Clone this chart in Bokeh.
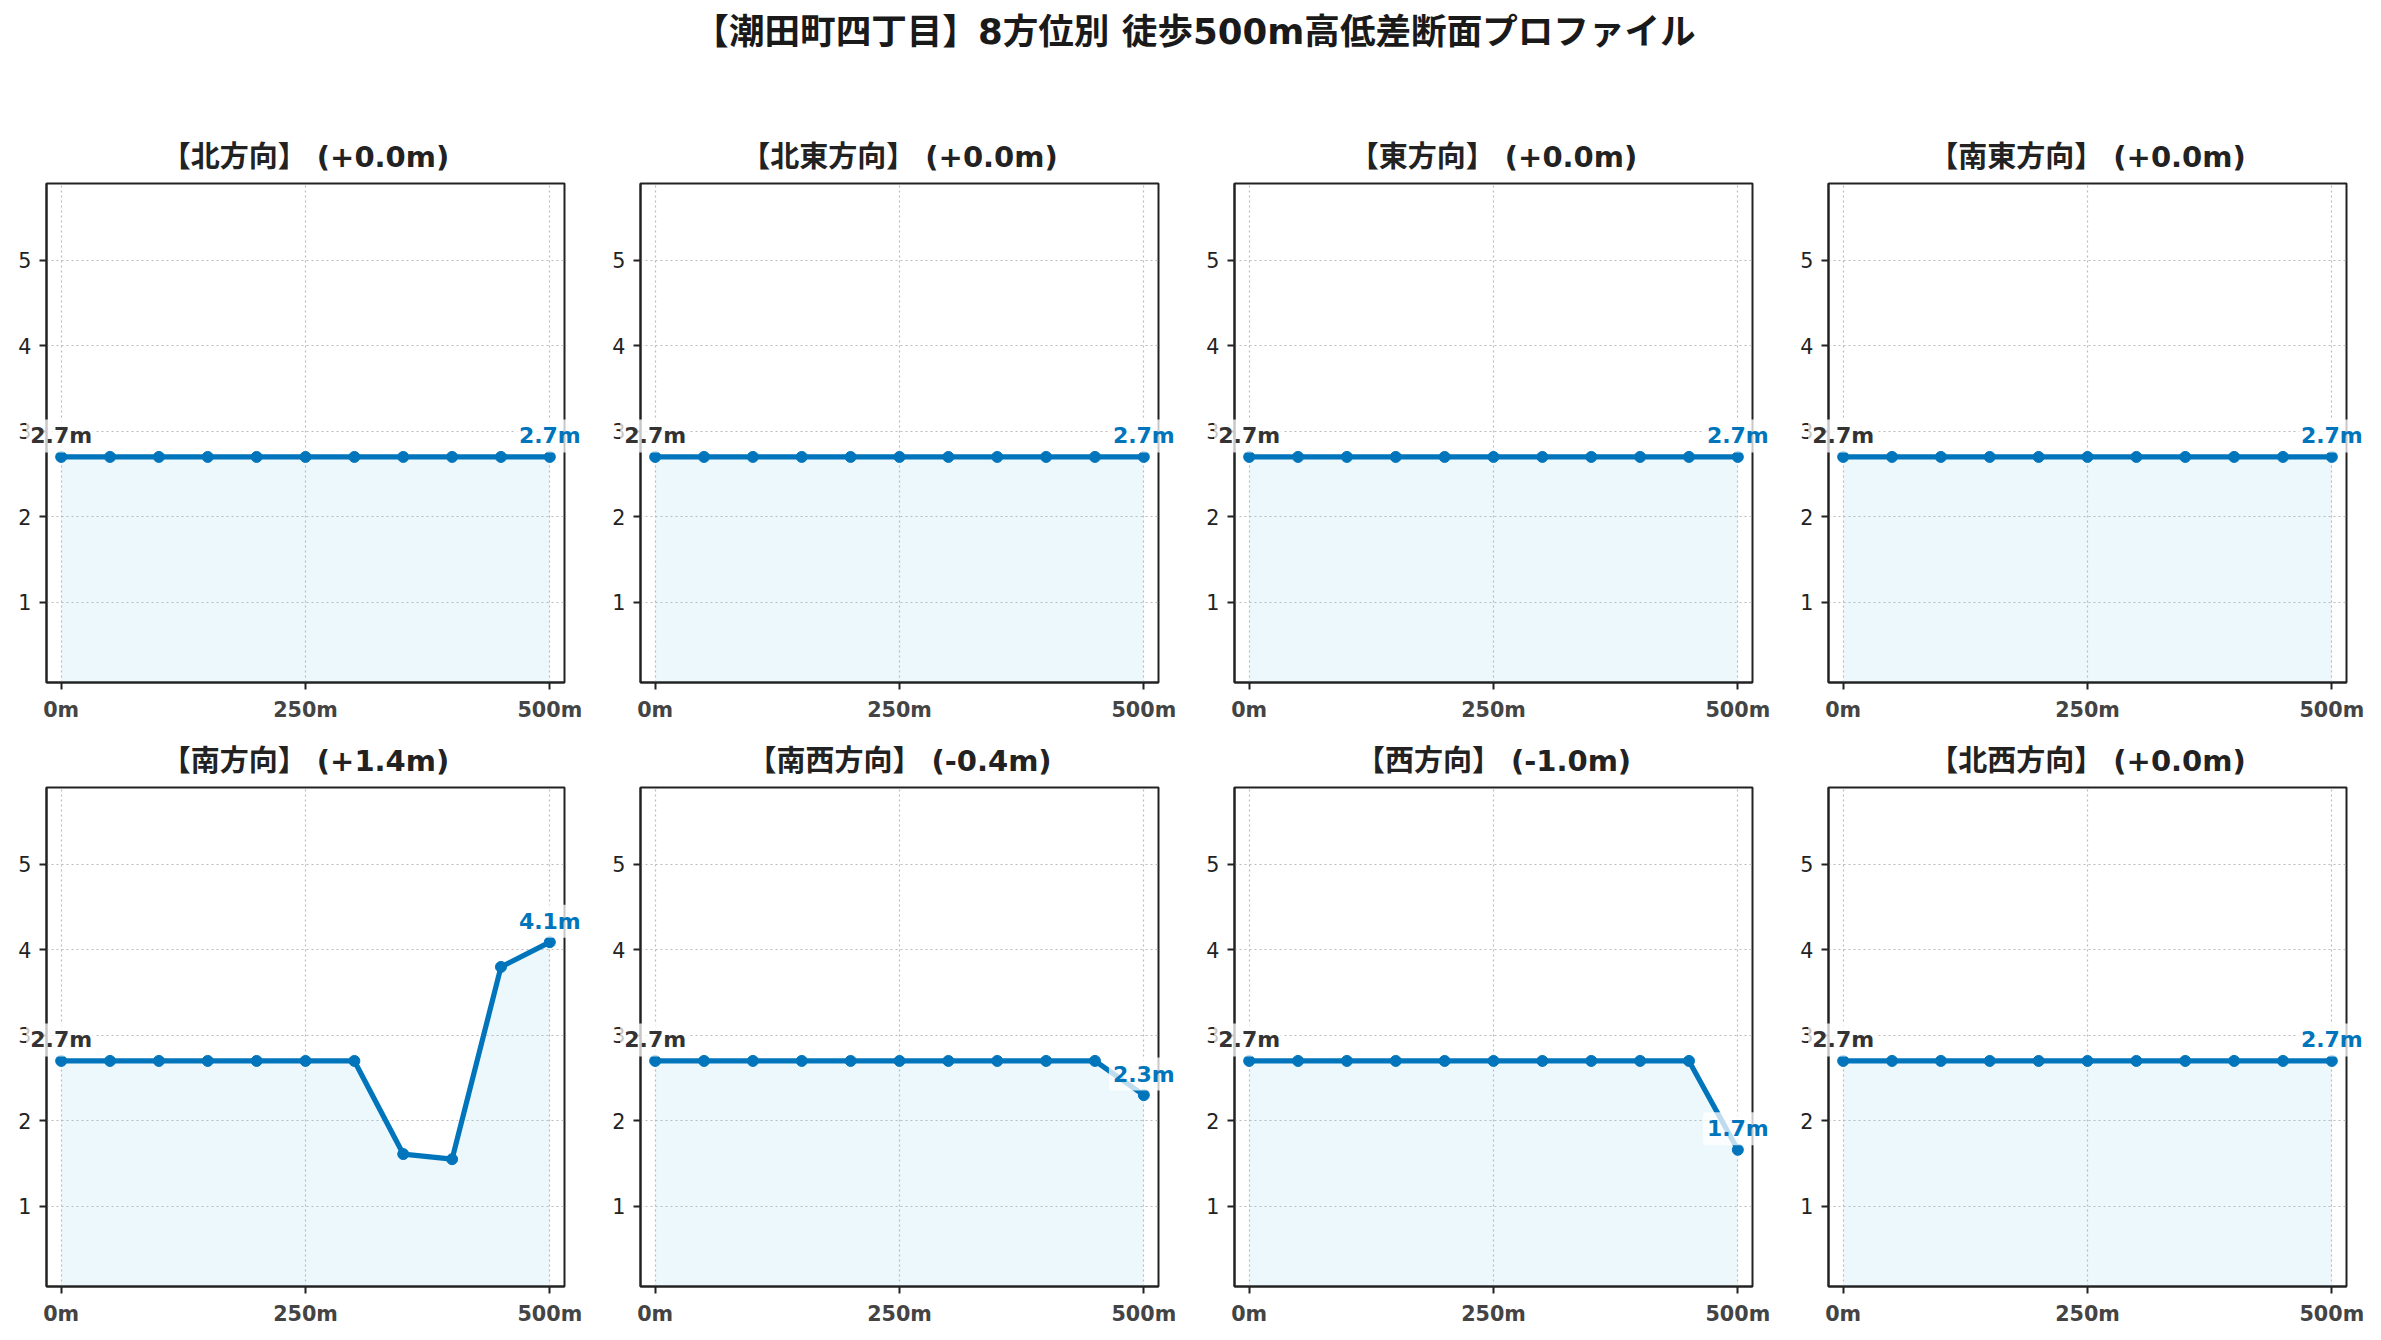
from bokeh.plotting import figure
from bokeh.models import Range1d, FixedTicker, Label
from bokeh.layouts import column, row
from bokeh.embed import file_html
from bokeh.resources import INLINE

FONT = "DejaVu Sans, Noto Sans CJK JP"
BLUE = "#0075BC"
FILL = "#87CEEB"

suptitle = "【潮田町四丁目】8方位別 徒歩500m高低差断面プロファイル"

directions = ["北方向", "北東方向", "東方向", "南東方向",
              "南方向", "南西方向", "西方向", "北西方向"]

distances = [0, 50, 100, 150, 200, 250, 300, 350, 400, 450, 500]

elev_n = [2.7, 2.7, 2.7, 2.7, 2.7, 2.7, 2.7, 2.7, 2.7, 2.7, 2.7]
elev_ne = [2.7, 2.7, 2.7, 2.7, 2.7, 2.7, 2.7, 2.7, 2.7, 2.7, 2.7]
elev_e = [2.7, 2.7, 2.7, 2.7, 2.7, 2.7, 2.7, 2.7, 2.7, 2.7, 2.7]
elev_se = [2.7, 2.7, 2.7, 2.7, 2.7, 2.7, 2.7, 2.7, 2.7, 2.7, 2.7]
elev_s = [2.7, 2.7, 2.7, 2.7, 2.7, 2.7, 2.7, 1.61, 1.55, 3.80, 4.09]
elev_sw = [2.7, 2.7, 2.7, 2.7, 2.7, 2.7, 2.7, 2.7, 2.7, 2.7, 2.30]
elev_w = [2.7, 2.7, 2.7, 2.7, 2.7, 2.7, 2.7, 2.7, 2.7, 2.7, 1.66]
elev_nw = [2.7, 2.7, 2.7, 2.7, 2.7, 2.7, 2.7, 2.7, 2.7, 2.7, 2.7]

profiles = [elev_n, elev_ne, elev_e, elev_se, elev_s, elev_sw, elev_w, elev_nw]

x_ticks = [0, 250, 500]
x_tick_labels = ["0m", "250m", "500m"]
y_ticks = [1, 2, 3, 4, 5]

X_MIN, X_MAX = -15, 515
Y_MIN, Y_MAX = 0.06, 5.9

TOP = 110      # fixed "above" panel height (holds the un-clipped labels)
BOTTOM = 45
FRAME_W, FRAME_H = 518, 499


def make_panel(name, elev, col):
    p = figure(frame_width=FRAME_W, frame_height=FRAME_H,
               x_range=Range1d(X_MIN, X_MAX), y_range=Range1d(Y_MIN, Y_MAX),
               output_backend="svg", toolbar_location=None,
               min_border_left=(46 if col == 0 else 38),
               min_border_right=(38 if col < 3 else 27),
               min_border_top=TOP, min_border_bottom=BOTTOM)
    p.background_fill_color = "white"
    p.border_fill_color = None
    p.outline_line_color = "#222222"
    p.outline_line_width = 2

    p.varea(x=distances, y1=0, y2=elev, fill_color=FILL, fill_alpha=0.15)
    p.line(distances, elev, line_color=BLUE, line_width=5.2, line_join="round")
    p.scatter(distances, elev, size=11, fill_color=BLUE, line_color=BLUE)

    for ax in (p.xaxis, p.yaxis):
        ax.axis_line_color = "#222222"
        ax.axis_line_width = 2
        ax.major_tick_line_color = "#222222"
        ax.major_tick_line_width = 2
        ax.major_tick_out = 7
        ax.major_tick_in = 0
        ax.minor_tick_line_color = None
        ax.major_label_text_font = FONT
        ax.major_label_text_font_size = "20.7px"
        ax.major_label_standoff = 8

    p.xaxis.ticker = FixedTicker(ticks=x_ticks)
    p.xaxis.major_label_overrides = dict(zip(x_ticks, x_tick_labels))
    p.xaxis.major_label_text_font_style = "bold"
    p.xaxis.major_label_text_color = "#444444"
    p.yaxis.ticker = FixedTicker(ticks=y_ticks)
    p.yaxis.major_label_text_color = "#222222"

    for g in (p.xgrid, p.ygrid):
        g.grid_line_color = "#bbbbbb"
        g.grid_line_dash = "2 3"
        g.grid_line_width = 1.2

    diff = elev[-1] - elev[0]
    p.add_layout(Label(x=(x_ticks[0] + x_ticks[-1]) / 2, y=Y_MAX, y_offset=27,
                       text=f"【{name}】 ({diff:+.1f}m)",
                       text_align="center", text_baseline="alphabetic",
                       text_font=FONT, text_font_size="29px",
                       text_font_style="bold", text_color="#222222"), "above")

    common = dict(y_offset=21, text_align="center", text_baseline="alphabetic",
                  text_font=FONT, text_font_size="22px", text_font_style="bold",
                  background_fill_color="white", background_fill_alpha=0.75,
                  padding=4, border_radius=4)
    p.add_layout(Label(x=distances[0], y=elev[0], text=f"{elev[0]:.1f}m",
                       text_color="#333333", **common), "above")
    p.add_layout(Label(x=distances[-1], y=elev[-1], text=f"{elev[-1]:.1f}m",
                       text_color=BLUE, **common), "above")
    return p


TITLE_H = 183 - TOP
t = figure(width=2373, height=TITLE_H, x_range=Range1d(0, 2373), y_range=Range1d(0, TITLE_H),
           output_backend="svg", toolbar_location=None, min_border=0,
           x_axis_location=None, y_axis_location=None)
t.grid.visible = False
t.outline_line_color = None
t.border_fill_color = None
t.add_layout(Label(x=1194, y=TITLE_H - 31, text=suptitle, text_align="center",
                   text_baseline="middle", text_font=FONT, text_font_size="35.6px",
                   text_font_style="bold", text_color="#1a1a1a"))

panels = [make_panel(n, e, i % 4) for i, (n, e) in enumerate(zip(directions, profiles))]

row1 = row(*panels[:4])
row2 = row(*panels[4:], margin=(60 - TOP, 0, 0, 0))
layout = column(t, row1, row2)

with open("out.html", "w") as f:
    f.write(file_html(layout, INLINE))
